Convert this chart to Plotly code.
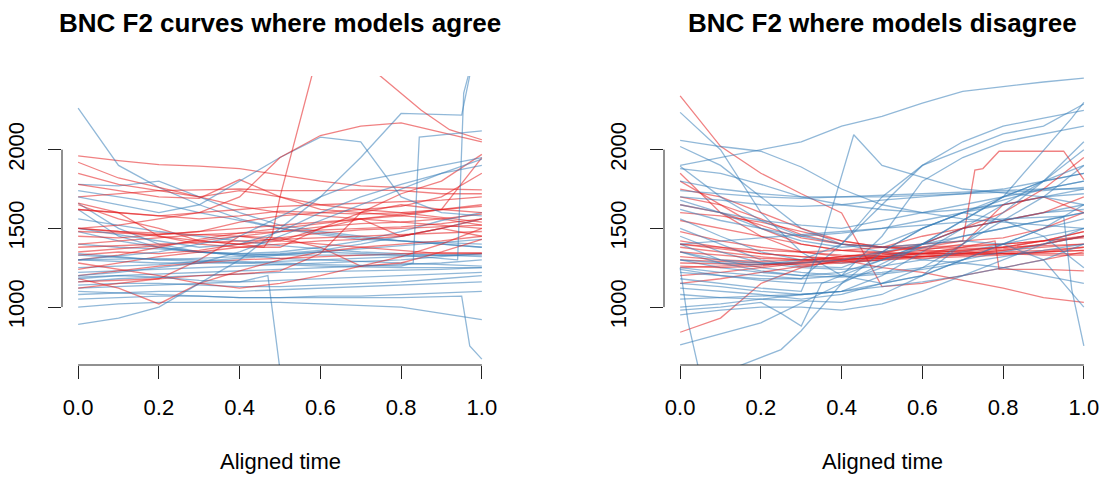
import plotly.graph_objects as go

W, H = 1105, 477
T = [0.0, 0.1, 0.2, 0.3, 0.4, 0.5, 0.6, 0.7, 0.8, 0.9, 1.0]
x_ticks = [0.0, 0.2, 0.4, 0.6, 0.8, 1.0]
x_ticktext = ["0.0", "0.2", "0.4", "0.6", "0.8", "1.0"]
y_ticks = [1000, 1500, 2000]
titles = ["BNC F2 curves where models agree", "BNC F2 where models disagree"]
xlabel = "Aligned time"

# ---------- left panel (models agree) ----------
left_red = [
    [1960, 1930, 1905, 1895, 1880, 1840, 1800, 1770, 1760, 1750, 1745],
    [1920, 1820, 1760, 1700, 1640, 1600, 1580, 1560, 1540, 1520, 1500],
    [1850, 1780, 1740, 1700, 1740, 1700, 1650, 1620, 1600, 1570, 1540],
    [1780, 1740, 1700, 1690, 1810, 1700, 1620, 1600, 1580, 1560, 1520],
    [1700, 1720, 1740, 1745, 1750, 1740, 1740, 1745, 1740, 1720, 1720],
    [1650, 1560, 1500, 1420, 1400, 1420, 1500, 1600, 1650, 1620, 1600],
    [1620, 1600, 1580, 1560, 1580, 1610, 1600, 1590, 1600, 1620, 1640],
    [1500, 1520, 1560, 1600, 1620, 1640, 1650, 1660, 1670, 1680, 1700],
    [1480, 1470, 1460, 1480, 1540, 1580, 1600, 1620, 1640, 1700, 1850],
    [1450, 1440, 1460, 1480, 1500, 1520, 1540, 1560, 1580, 1620, 1950],
    [1400, 1420, 1440, 1460, 1470, 1480, 1490, 1500, 1510, 1530, 1560],
    [1380, 1390, 1400, 1410, 1420, 1430, 1440, 1450, 1460, 1470, 1480],
    [1350, 1370, 1390, 1420, 1450, 1480, 1510, 1530, 1540, 1560, 1590],
    [1300, 1330, 1380, 1430, 1470, 1500, 1530, 1560, 1590, 1620, 1650],
    [1240, 1280, 1320, 1350, 1380, 1400, 1420, 1430, 1450, 1500, 1560],
    [1200, 1230, 1260, 1280, 1300, 1310, 1320, 1330, 1340, 1345, 1345],
    [1160, 1170, 1180, 1300, 1450, 1420, 1400, 1380, 1360, 1340, 1340],
    [1120, 1150, 1180, 1200, 1210, 1230, 1340, 1600, 1720, 1800, 1970],
    [1660, 1600, 1450, 1400, 1380, 1380, 1500, 1560, 1450, 1500, 1450],
    [1180, 1120, 1020, 1150, 1230, 1300, 1350, 1380, 1400, 1420, 1450],
    [1280, 1240, 1200, 1150, 1120, 1150, 1200, 1260, 1320, 1400, 1500],
    [1500, 1480, 1470, 1460, 1450, 1440, 1380, 1260, 1280, 1350, 1430],
    [1620, 1600, 1580, 1600, 1700, 1950, 2090, 2150, 2170, 2110, 2050],
    [1330, 1350, 1340, 1360, 1400, 1440, 1470, 1490, 1500, 1510, 1520],
]
left_red_special = [
    ([0.0, 0.1, 0.2, 0.3, 0.4, 0.46, 0.48, 0.5, 0.58],
     [1500, 1480, 1450, 1420, 1400, 1380, 1450, 1700, 2480]),
    ([0.6, 0.68, 0.75, 0.85, 0.92, 1.0],
     [2700, 2600, 2465, 2250, 2127, 2063]),
]
left_blue = [
    [2264, 1900, 1760, 1650, 1560, 1500, 1470, 1440, 1420, 1400, 1380],
    [1780, 1770, 1800, 1700, 1600, 1520, 1480, 1450, 1420, 1400, 1380],
    [1740, 1700, 1660, 1600, 1550, 1500, 1460, 1430, 1420, 1410, 1400],
    [1660, 1500, 1400, 1350, 1330, 1310, 1300, 1290, 1280, 1270, 1260],
    [1620, 1450, 1380, 1350, 1340, 1350, 1380, 1420, 1480, 1550, 1600],
    [1560, 1520, 1480, 1450, 1420, 1390, 1370, 1350, 1340, 1330, 1320],
    [1480, 1420, 1380, 1350, 1330, 1340, 1360, 1400, 1450, 1500, 1560],
    [1400, 1380, 1370, 1350, 1340, 1330, 1330, 1330, 1330, 1330, 1330],
    [1340, 1320, 1300, 1290, 1280, 1270, 1260, 1255, 1250, 1250, 1250],
    [1300, 1290, 1280, 1280, 1280, 1290, 1300, 1310, 1320, 1330, 1340],
    [1250, 1260, 1270, 1290, 1310, 1330, 1350, 1370, 1390, 1410, 1430],
    [1220, 1230, 1240, 1250, 1260, 1270, 1280, 1290, 1300, 1320, 1340],
    [1190, 1200, 1210, 1220, 1230, 1240, 1250, 1260, 1270, 1280, 1300],
    [1160, 1180, 1190, 1200, 1210, 1220, 1225, 1230, 1235, 1240, 1250],
    [1140, 1150, 1150, 1140, 1130, 1130, 1140, 1150, 1160, 1180, 1200],
    [1120, 1130, 1140, 1150, 1160, 1170, 1180, 1190, 1200, 1210, 1220],
    [1080, 1090, 1100, 1100, 1100, 1110, 1120, 1130, 1140, 1150, 1160],
    [1050, 1060, 1070, 1070, 1060, 1060, 1070, 1070, 1080, 1090, 1100],
    [1000, 1020, 1030, 1030, 1030, 1030, 1020, 1010, 1000, 960, 920],
    [890, 930, 1000, 1150, 1300, 1500, 1700, 1800, 1850, 1900, 1950],
    [1700, 1650, 1600, 1650, 1800, 1950, 2080, 2050, 1700, 1600, 1580],
    [1200, 1220, 1250, 1280, 1350, 1450, 1550, 1650, 1750, 1850, 1940],
    [1500, 1460, 1420, 1380, 1400, 1480, 1600, 1700, 1780, 1850, 1900],
]
left_blue_special = [
    ([0.0, 0.1, 0.2, 0.3, 0.4, 0.47, 0.5],
     [1180, 1200, 1190, 1170, 1160, 1200, 600]),
    ([0.0, 0.2, 0.4, 0.6, 0.7, 0.8, 0.95, 0.97, 0.99],
     [1300, 1350, 1450, 1700, 1950, 2230, 2220, 2470, 2600]),
    ([0.0, 0.2, 0.4, 0.6, 0.8, 0.94, 0.955, 0.98],
     [1330, 1300, 1320, 1350, 1330, 1300, 2360, 2600]),
    ([0.0, 0.2, 0.4, 0.6, 0.8, 0.95, 0.97, 1.0],
     [1100, 1080, 1060, 1060, 1060, 1070, 753, 669]),
    ([0.0, 0.2, 0.4, 0.6, 0.8, 0.83, 0.845, 1.0],
     [1300, 1310, 1290, 1270, 1260, 1280, 2080, 2120]),
]

# ---------- right panel (models disagree) ----------
right_red = [
    [2342, 2021, 1850, 1720, 1598, 1130, 1150, 1200, 1250, 1300, 1350],
    [1850, 1600, 1450, 1350, 1320, 1330, 1350, 1370, 1380, 1390, 1400],
    [1800, 1650, 1500, 1400, 1360, 1350, 1340, 1340, 1350, 1360, 1380],
    [1750, 1700, 1600, 1500, 1420, 1380, 1360, 1350, 1340, 1330, 1330],
    [1700, 1650, 1560, 1460, 1400, 1380, 1370, 1380, 1400, 1420, 1450],
    [1650, 1600, 1520, 1440, 1400, 1380, 1400, 1420, 1440, 1500, 1600],
    [1600, 1580, 1540, 1480, 1420, 1380, 1380, 1390, 1400, 1420, 1440],
    [1550, 1500, 1450, 1400, 1360, 1340, 1340, 1340, 1340, 1340, 1340],
    [1480, 1420, 1380, 1350, 1330, 1320, 1320, 1330, 1340, 1350, 1360],
    [1420, 1380, 1340, 1320, 1310, 1310, 1320, 1340, 1360, 1400, 1450],
    [1380, 1350, 1320, 1300, 1300, 1310, 1320, 1330, 1340, 1350, 1360],
    [1300, 1290, 1280, 1270, 1280, 1300, 1320, 1340, 1360, 1380, 1400],
    [1250, 1260, 1270, 1280, 1290, 1300, 1310, 1320, 1330, 1350, 1380],
    [1200, 1220, 1250, 1280, 1300, 1320, 1340, 1360, 1380, 1420, 1480],
    [1150, 1180, 1220, 1260, 1290, 1310, 1330, 1350, 1370, 1400, 1450],
    [840, 930, 1150, 1250, 1300, 1320, 1340, 1360, 1380, 1420, 1480],
    [1400, 1370, 1340, 1320, 1300, 1250, 1220, 1170, 1120, 1060, 1030],
    [1320, 1300, 1290, 1300, 1320, 1340, 1400, 1500, 1600, 1750, 1950],
    [1400, 1380, 1360, 1350, 1360, 1380, 1450, 1500, 1550, 1600, 1700],
    [1350, 1330, 1310, 1300, 1310, 1330, 1360, 1400, 1650, 1700, 1600],
]
right_red_special = [
    ([0.0, 0.1, 0.2, 0.3, 0.4, 0.5, 0.6, 0.7, 0.73, 0.75, 0.79, 0.95, 1.0],
     [1260, 1250, 1260, 1290, 1320, 1350, 1380, 1420, 1870, 1880, 1990, 1990, 1810]),
    ([0.0, 0.2, 0.4, 0.6, 0.7, 0.78, 0.79, 0.9, 1.0],
     [1280, 1270, 1300, 1340, 1380, 1420, 1240, 1240, 1230]),
]
right_blue = [
    [2237, 2000, 1600, 1350, 1200, 1150, 1200, 1300, 1400, 1500, 1560],
    [2059, 2020, 1990, 1890, 1750, 1650, 1600, 1560, 1540, 1520, 1500],
    [2020, 1900, 1700, 1500, 1400, 1350, 1300, 1280, 1250, 1200, 1150],
    [1880, 1850, 1780, 1700, 1650, 1620, 1600, 1620, 1650, 1700, 1750],
    [1800, 1750, 1720, 1700, 1700, 1700, 1710, 1720, 1730, 1740, 1760],
    [1740, 1720, 1700, 1690, 1700, 1710, 1720, 1730, 1740, 1750, 1750],
    [1700, 1680, 1650, 1640, 1650, 1680, 1700, 1720, 1750, 1800, 1850],
    [1680, 1600, 1550, 1520, 1500, 1550, 1600, 1650, 1700, 1750, 1800],
    [1620, 1550, 1500, 1450, 1470, 1500, 1550, 1600, 1650, 1700, 1720],
    [1560, 1450, 1350, 1300, 1280, 1300, 1400, 1500, 1550, 1600, 1620],
    [1500, 1400, 1300, 1260, 1250, 1350, 1500, 1600, 1700, 1800, 1850],
    [1450, 1350, 1280, 1250, 1240, 1260, 1300, 1350, 1400, 1450, 1500],
    [1400, 1300, 1250, 1220, 1200, 1220, 1250, 1300, 1350, 1400, 1450],
    [1350, 1280, 1230, 1200, 1190, 1210, 1240, 1280, 1320, 1360, 1400],
    [1300, 1250, 1220, 1200, 1220, 1300, 1400, 1500, 1550, 1600, 1650],
    [1250, 1220, 1200, 1180, 1200, 1450, 1800, 1950, 2050, 2100, 2150],
    [1220, 1200, 1180, 1180, 1400, 1700, 1900, 2050, 2150, 2200, 2250],
    [1150, 1130, 1100, 1080, 1100, 1200, 1350, 1500, 1650, 1800, 2000],
    [1120, 1100, 1080, 1050, 1080, 1150, 1250, 1400, 1550, 1700, 1900],
    [1080, 1060, 1050, 1040, 1030, 1080, 1200, 1400, 1600, 1800, 2050],
    [1050, 1060, 1070, 1080, 1100, 1150, 1200, 1300, 1400, 1500, 1650],
    [1000, 1020, 1050, 1080, 1100, 1130, 1160, 1200, 1250, 1300, 1400],
    [950, 980, 1000, 1000, 980, 1020, 1100, 1200, 1300, 1400, 1500],
    [1900, 1950, 2000, 2050, 2150, 2211, 2296, 2370, 2400, 2430, 2455],
    [1300, 1280, 1270, 1300, 1400, 1650, 1900, 2000, 2100, 2150, 2290],
    [1350, 1300, 1280, 1280, 1300, 1350, 1400, 1420, 1400, 1300, 1000],
    [1650, 1600, 1500, 1420, 1380, 1400, 1500, 1600, 1550, 1450, 1250],
    [1894, 1700, 1550, 1450, 1400, 1380, 1400, 1450, 1500, 1550, 1600],
    [1240, 1200, 1170, 1150, 1160, 1250, 1400, 1550, 1700, 1800, 1900],
]
right_blue_special = [
    ([0.0, 0.1, 0.2, 0.25, 0.3, 0.35, 0.5, 0.7, 0.9, 1.0],
     [980, 1000, 1030, 960, 880, 1150, 1300, 1450, 1550, 1600]),
    ([0.0, 0.02, 0.05],
     [1250, 900, 560]),
    ([0.12, 0.2, 0.25, 0.3, 0.35, 0.4, 0.5, 0.6, 0.7, 0.8, 0.9, 1.0],
     [600, 680, 730, 850, 1000, 1150, 1350, 1500, 1600, 1680, 1750, 1800]),
    ([0.0, 0.2, 0.4, 0.6, 0.8, 0.95, 0.97, 1.0],
     [1400, 1440, 1480, 1520, 1560, 1577, 1113, 753]),
    ([0.0, 0.1, 0.2, 0.3, 0.35, 0.43, 0.5, 0.7, 0.9, 1.0],
     [1180, 1150, 1120, 1100, 1400, 2095, 1900, 1750, 1700, 1650]),
    ([0.0, 0.2, 0.4, 0.6, 0.8, 0.97, 1.0],
     [760, 900, 1150, 1400, 1700, 2200, 2300]),
]

RED = "rgba(228,26,28,0.55)"
BLUE = "rgba(55,126,184,0.55)"
FONT = "Liberation Sans, Arial, Helvetica, sans-serif"

fig = go.Figure()


def add_lines(red, red_sp, blue, blue_sp, xa, ya):
    reds = [(T, v) for v in red] + red_sp
    blues = [(T, v) for v in blue] + blue_sp
    n = max(len(reds), len(blues))
    for i in range(n):
        if i < len(reds):
            fig.add_trace(go.Scatter(x=reds[i][0], y=reds[i][1], mode="lines",
                                     line=dict(color=RED, width=1.3),
                                     xaxis=xa, yaxis=ya, showlegend=False,
                                     hoverinfo="skip"))
        if i < len(blues):
            fig.add_trace(go.Scatter(x=blues[i][0], y=blues[i][1], mode="lines",
                                     line=dict(color=BLUE, width=1.3),
                                     xaxis=xa, yaxis=ya, showlegend=False,
                                     hoverinfo="skip"))


add_lines(left_red, left_red_special, left_blue, left_blue_special, "x", "y")
add_lines(right_red, right_red_special, right_blue, right_blue_special, "x2", "y2")

doms = [[62 / W, 498 / W], [664 / W, 1100 / W]]
ydom = [1 - 365 / H, 1 - 76 / H]

xcommon = dict(range=[-0.04, 1.04], tickvals=x_ticks, ticktext=x_ticktext,
               ticks="outside", ticklen=13, tickwidth=1, tickcolor="#222",
               showline=False, showgrid=False, zeroline=False,
               tickfont=dict(family=FONT, size=22, color="black"),
               ticklabelstandoff=10)
ycommon = dict(range=[632, 2468], tickvals=y_ticks,
               ticks="outside", ticklen=13, tickwidth=1, tickcolor="#222",
               showline=False, showgrid=False, zeroline=False, tickangle=-90,
               tickfont=dict(family=FONT, size=22, color="black"),
               ticklabelstandoff=15)

fig.update_layout(
    width=W, height=H, margin=dict(l=0, r=0, t=0, b=0),
    paper_bgcolor="white", plot_bgcolor="white",
    xaxis=dict(domain=doms[0], anchor="y", **xcommon),
    yaxis=dict(domain=ydom, anchor="x", **ycommon),
    xaxis2=dict(domain=doms[1], anchor="y2", **xcommon),
    yaxis2=dict(domain=ydom, anchor="x2", **ycommon),
)

shapes = []
annotations = []
for k, (xa, ya) in enumerate([("x", "y"), ("x2", "y2")]):
    shapes.append(dict(type="line", xref=xa, yref=ya + " domain", x0=0, x1=1,
                       y0=0, y1=0, line=dict(color="#222", width=1)))
    shapes.append(dict(type="line", xref=xa + " domain", yref=ya, x0=0, x1=0,
                       y0=1000, y1=2000, line=dict(color="#222", width=1)))
    cx = (doms[k][0] + doms[k][1]) / 2
    annotations.append(dict(text="<b>" + titles[k] + "</b>", xref="paper", yref="paper",
                            x=cx, y=1 - 23 / H, xanchor="center", yanchor="middle",
                            showarrow=False,
                            font=dict(family=FONT, size=26, color="black")))
    annotations.append(dict(text=xlabel, xref="paper", yref="paper",
                            x=cx, y=1 - 461 / H, xanchor="center", yanchor="middle",
                            showarrow=False,
                            font=dict(family=FONT, size=22, color="black")))
fig.update_layout(shapes=shapes, annotations=annotations)

fig.write_html("out.html",
               config={"displayModeBar": False, "staticPlot": True},
               post_script="document.body.style.margin='0';"
                           "document.body.style.overflow='hidden';")
